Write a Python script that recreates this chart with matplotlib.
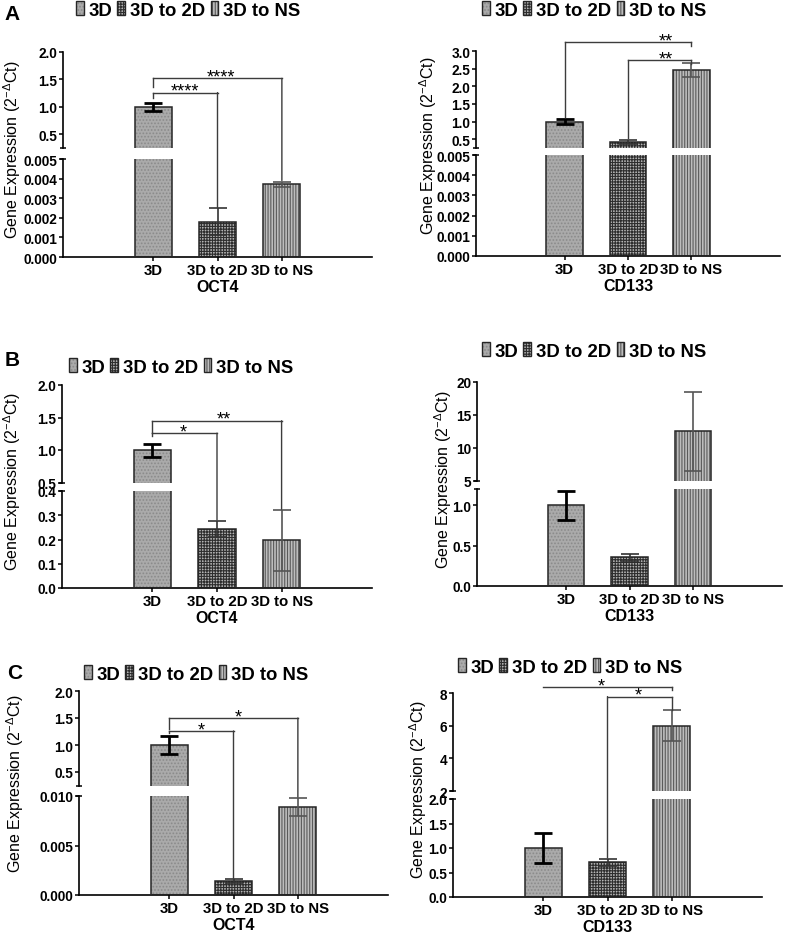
import matplotlib
matplotlib.use("Agg")
import matplotlib.pyplot as plt
from matplotlib.patches import Patch, ConnectionPatch
from matplotlib.ticker import FormatStrFormatter, FixedLocator
from matplotlib.font_manager import FontProperties
import numpy as np

plt.rcParams['font.family'] = ['Liberation Sans', 'DejaVu Sans']
plt.rcParams['mathtext.fontset'] = 'custom'
plt.rcParams['mathtext.rm'] = 'Liberation Sans'
plt.rcParams['mathtext.it'] = 'Liberation Sans:italic'
plt.rcParams['mathtext.bf'] = 'Liberation Sans:bold'
plt.rcParams['hatch.linewidth'] = 0.8

# ---------------- data ----------------
categories = ["3D", "3D to 2D", "3D to NS"]

A_oct4_mean = [1.0, 0.0018, 0.0037]
A_oct4_sd = [0.07, 0.0007, 0.00012]
A_cd133_mean = [1.0, 0.42, 2.46]
A_cd133_sd = [0.08, 0.06, 0.2]

B_oct4_mean = [1.0, 0.243, 0.196]
B_oct4_sd = [0.10, 0.032, 0.125]
B_cd133_mean = [1.0, 0.355, 12.5]
B_cd133_sd = [0.18, 0.045, 6.05]

C_oct4_mean = [1.0, 0.0014, 0.0089]
C_oct4_sd = [0.17, 0.0002, 0.00093]
C_cd133_mean = [1.0, 0.705, 6.0]
C_cd133_sd = [0.31, 0.08, 0.94]

A_oct4_stars = ["****", "****"]
A_cd133_stars = ["**", "**"]
B_oct4_stars = ["*", "**"]
C_oct4_stars = ["*", "*"]
C_cd133_stars = ["*", "*"]

# ---------------- style ----------------
W, H = 787, 937
fig = plt.figure(figsize=(W / 100, H / 100), dpi=100)

face = ['#aaaaaa', '#b4b4b4', '#bdbdbd']
hcol = ['#8a8a8a', '#2e2e2e', '#5a5a5a']
hatches = ['.....', '++++++', '||||||']
outline = '#262626'
err_col = ['#000000', '#333333', '#555555']
err_lw = [2.0, 1.2, 1.2]
BW = 0.575
TICK_FS = 9.8
XTICK_FS = 10.8
GENE_FS = 11.5
LEG_FS = 13.3
STAR_FS = 13
YLAB_FS = 11.5


def rect(x0, y0, x1, y1):
    return [x0 / W, 1 - y1 / H, (x1 - x0) / W, (y1 - y0) / H]


def draw_panel(cfg, mean, sd, gene, stars):
    x0, x1 = cfg['x']
    axU = fig.add_axes(rect(x0, cfg['U'][0], x1, cfg['U'][1]))
    axL = fig.add_axes(rect(x0, cfg['L'][0], x1, cfg['L'][1]))
    xs = np.arange(1, len(categories) + 1)
    for ax in (axU, axL):
        for i in range(len(categories)):
            ax.bar(xs[i], mean[i], width=BW, color=face[i], edgecolor=hcol[i],
                   hatch=hatches[i], lw=0, zorder=2)
            ax.bar(xs[i], mean[i], width=BW, fill=False, edgecolor=outline,
                   lw=1.1, zorder=3)
            ax.errorbar(xs[i], mean[i], yerr=sd[i], fmt='none', ecolor=err_col[i],
                        elinewidth=err_lw[i], capsize=6.5, capthick=err_lw[i], zorder=4)
        ax.set_xlim(-0.4, 4.4)
        for s in ('top', 'right'):
            ax.spines[s].set_visible(False)
        ax.spines['left'].set_linewidth(1.2)
        ax.tick_params(axis='y', direction='out', length=3, width=1.1, pad=1.0,
                       labelsize=TICK_FS)
    axU.set_ylim(*cfg['Ulim'])
    axL.set_ylim(*cfg['Llim'])
    axU.yaxis.set_major_locator(FixedLocator(cfg['Uticks']))
    axL.yaxis.set_major_locator(FixedLocator(cfg['Lticks']))
    axU.yaxis.set_major_formatter(FormatStrFormatter(cfg['Ufmt']))
    axL.yaxis.set_major_formatter(FormatStrFormatter(cfg['Lfmt']))
    for ax in (axU, axL):
        for lab in ax.get_yticklabels():
            lab.set_fontweight('bold')
    axU.spines['bottom'].set_visible(False)
    axU.set_xticks([])
    axL.spines['bottom'].set_linewidth(1.2)
    axL.set_xticks(xs)
    axL.set_xticklabels(categories, fontweight='bold', fontsize=XTICK_FS)
    axL.tick_params(axis='x', direction='out', length=3, width=1.1, pad=1.5)
    axL.set_xlabel(gene, fontweight='bold', fontsize=GENE_FS, labelpad=1.5)
    # break caps
    axU.plot([0], [0], marker='_', ms=5, mew=1.1, color='k',
             transform=axU.transAxes, clip_on=False)
    axL.plot([0], [1], marker='_', ms=5, mew=1.1, color='k',
             transform=axL.transAxes, clip_on=False)
    # significance brackets
    lc = '#3c3c3c'
    for b, txt in zip(cfg['brackets'], stars):
        xa, xb, y = b['xa'], b['xb'], b['y']
        axU.plot([xa, xb], [y, y], color=lc, lw=1.0, clip_on=False, zorder=5)
        for xx, (seg, val) in ((xa, b['le']), (xb, b['re'])):
            if seg == 'U':
                axU.plot([xx, xx], [y, val], color=lc, lw=1.0, clip_on=False, zorder=5)
            else:
                cp = ConnectionPatch(xyA=(xx, y), coordsA='data', axesA=axU,
                                     xyB=(xx, val), coordsB='data', axesB=axL,
                                     color=lc, lw=1.0, zorder=5)
                fig.add_artist(cp)
        axU.annotate(txt, (b['tx'], y), xytext=(0, -2.2), textcoords='offset points',
                     ha='center', va='baseline', fontsize=STAR_FS,
                     annotation_clip=False, clip_on=False)
    # legend
    handles = []
    for i in range(len(categories)):
        pf = Patch(facecolor=face[i], edgecolor=hcol[i], hatch=hatches[i], lw=0)
        pe = Patch(fill=False, edgecolor=outline, lw=1.0)
        handles.append((pf, pe))
    lcx, lcy = cfg['leg']
    fig.legend(handles, categories, loc='center', bbox_to_anchor=(lcx / W, 1 - lcy / H),
               ncol=3, frameon=False, handlelength=0.42, handleheight=0.8,
               handletextpad=0.25, columnspacing=0.3, borderpad=0, borderaxespad=0,
               prop=FontProperties(family=['Liberation Sans'], weight='bold', size=LEG_FS))
    yx, yy = cfg['ylab']
    fig.text(yx / W, 1 - yy / H, r'Gene Expression (2$^{\mathregular{-\Delta}}$Ct)',
             rotation=90, ha='center', va='center', fontsize=YLAB_FS)


panels = [
    dict(x=(63, 372), U=(53, 149), L=(160, 258), Ulim=(0.25, 2.0), Llim=(0, 0.005),
         Uticks=[0.5, 1.0, 1.5, 2.0], Lticks=[0, 0.001, 0.002, 0.003, 0.004, 0.005],
         Ufmt='%.1f', Lfmt='%.3f', leg=(188, 11), ylab=(12, 150),
         brackets=[dict(xa=1, xb=2, y=1.26, le=('U', 1.16), re=('L', 0.0025), tx=1.5),
                   dict(xa=1, xb=3, y=1.52, le=('U', 1.37), re=('L', 0.0039), tx=2.05)]),
    dict(x=(476, 780), U=(52, 149), L=(156, 257), Ulim=(0.25, 3.0), Llim=(0, 0.005),
         Uticks=[0.5, 1.0, 1.5, 2.0, 2.5, 3.0], Lticks=[0, 0.001, 0.002, 0.003, 0.004, 0.005],
         Ufmt='%.1f', Lfmt='%.3f', leg=(594, 11), ylab=(428, 146),
         brackets=[dict(xa=1, xb=3, y=3.25, le=('U', 1.12), re=('U', 3.13), tx=2.6),
                   dict(xa=2, xb=3, y=2.74, le=('U', 0.52), re=('U', 2.62), tx=2.6)]),
    dict(x=(62, 372), U=(386, 483.5), L=(492, 589), Ulim=(0.5, 2.0), Llim=(0, 0.4),
         Uticks=[0.5, 1.0, 1.5, 2.0], Lticks=[0, 0.1, 0.2, 0.3, 0.4],
         Ufmt='%.1f', Lfmt='%.1f', leg=(181, 368), ylab=(12, 482),
         brackets=[dict(xa=1, xb=2, y=1.26, le=('U', 1.22), re=('L', 0.28), tx=1.48),
                   dict(xa=1, xb=3, y=1.45, le=('U', 1.26), re=('L', 0.325), tx=2.1)]),
    dict(x=(477, 782), U=(383, 482), L=(490, 587), Ulim=(5, 20), Llim=(0, 1.2),
         Uticks=[5, 10, 15, 20], Lticks=[0, 0.5, 1.0],
         Ufmt='%d', Lfmt='%.1f', leg=(594, 352), ylab=(443, 480), brackets=[]),
    dict(x=(79, 388), U=(692, 786.5), L=(797, 896), Ulim=(0.25, 2.0), Llim=(0, 0.010),
         Uticks=[0.5, 1.0, 1.5, 2.0], Lticks=[0, 0.005, 0.010],
         Ufmt='%.1f', Lfmt='%.3f', leg=(196, 675), ylab=(15, 784),
         brackets=[dict(xa=1, xb=2, y=1.26, le=('U', 1.22), re=('L', 0.0016), tx=1.5),
                   dict(xa=1, xb=3, y=1.5, le=('U', 1.3), re=('L', 0.0099), tx=2.07)]),
    dict(x=(453, 762), U=(694, 792), L=(800, 898), Ulim=(2, 8), Llim=(0, 2.0),
         Uticks=[2, 4, 6, 8], Lticks=[0, 0.5, 1.0, 1.5, 2.0],
         Ufmt='%d', Lfmt='%.1f', leg=(570, 668), ylab=(418, 790),
         brackets=[dict(xa=1, xb=3, y=8.34, le=('L', 1.55), re=('U', 8.2), tx=1.9),
                   dict(xa=2, xb=3, y=7.78, le=('L', 0.8), re=('U', 6.97), tx=2.47)]),
]

draw_panel(panels[0], A_oct4_mean, A_oct4_sd, "OCT4", A_oct4_stars)
draw_panel(panels[1], A_cd133_mean, A_cd133_sd, "CD133", A_cd133_stars)
draw_panel(panels[2], B_oct4_mean, B_oct4_sd, "OCT4", B_oct4_stars)
draw_panel(panels[3], B_cd133_mean, B_cd133_sd, "CD133", [])
draw_panel(panels[4], C_oct4_mean, C_oct4_sd, "OCT4", C_oct4_stars)
draw_panel(panels[5], C_cd133_mean, C_cd133_sd, "CD133", C_cd133_stars)

for letter, (lx, ly) in zip("ABC", [(12, 14), (12, 361), (15, 674)]):
    fig.text(lx / W, 1 - ly / H, letter, ha='center', va='center', fontsize=15,
             fontweight='bold')

fig.savefig("out.png", dpi=100)
